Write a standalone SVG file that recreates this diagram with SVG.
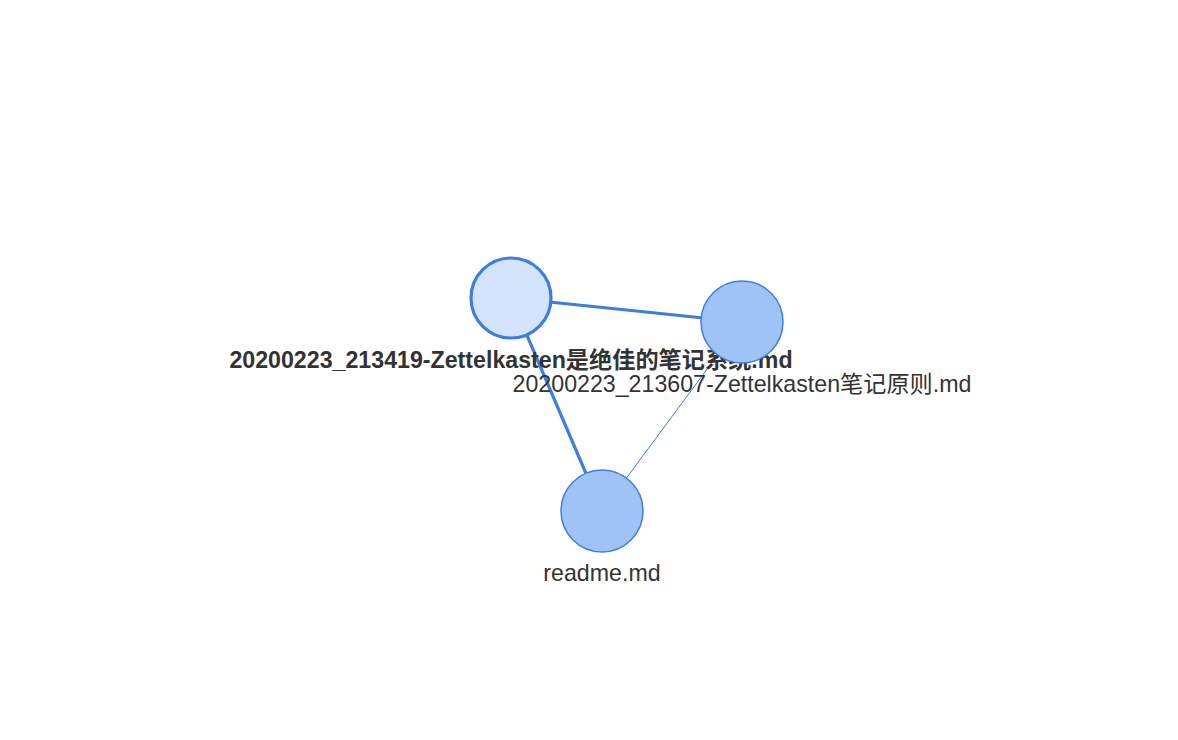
<svg xmlns="http://www.w3.org/2000/svg" width="1178" height="740" viewBox="0 0 1178 740">
<style>
.edge{stroke:#3d7ede;fill:none}
.thick{stroke-width:3.2}
.thin{stroke-width:1}
.node{fill:#a0c3f7;stroke:#3d7ede;stroke-width:1.5}
.focus{fill:#d4e4fd;stroke:#3d7ede;stroke-width:3.2}
.label{font-family:"Liberation Sans","Noto Sans CJK SC",sans-serif;font-size:23.2px;fill:#333;text-anchor:middle}
.bold{font-weight:bold}
</style>
<rect width="1178" height="740" fill="#fff"/>
<g id="connectors">
<line class="edge thick" x1="511" y1="298" x2="742" y2="322"/>
<line class="edge thick" x1="511" y1="298" x2="602" y2="511"/>
<line class="edge thin" x1="742" y1="322" x2="602" y2="511"/>
</g>
<g id="node-zettelkasten-system">
<circle class="focus" cx="511" cy="298" r="40"/>
<text class="label bold" x="511" y="368">20200223_213419-Zettelkasten是绝佳的笔记系统.md</text>
</g>
<g id="node-zettelkasten-principles">
<circle class="node" cx="742" cy="322" r="41"/>
<text class="label" x="742" y="392">20200223_213607-Zettelkasten笔记原则.md</text>
</g>
<g id="node-readme">
<circle class="node" cx="602" cy="511" r="41"/>
<text class="label" x="602" y="581">readme.md</text>
</g>
</svg>
